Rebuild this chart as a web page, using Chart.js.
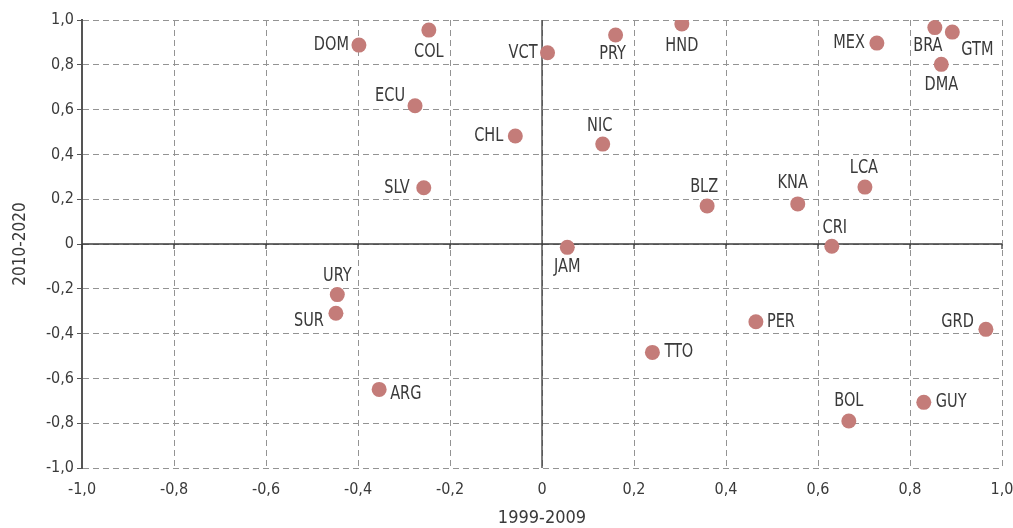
<!DOCTYPE html>
<html>
<head>
<meta charset="utf-8">
<script src="https://cdn.jsdelivr.net/npm/chart.js@4/dist/chart.umd.min.js"></script>
<style>
  html, body { margin: 0; padding: 0; background: #fff; }
  #wrap { width: 1013px; height: 528px; }
</style>
</head>
<body>
<div id="wrap"><canvas id="c" width="1013" height="528"></canvas></div>
<script>
// Country codes and their correlation values for the two periods
const countries = ['DOM','COL','VCT','PRY','HND','MEX','BRA','GTM','DMA','ECU','CHL','NIC','SLV',
                   'LCA','KNA','BLZ','CRI','JAM','URY','SUR','PER','GRD','TTO','ARG','GUY','BOL'];
const period1999_2009 = [-0.398,-0.246, 0.012, 0.160, 0.304, 0.728, 0.854, 0.892, 0.868,-0.276,-0.058, 0.132,-0.257,
                          0.702, 0.556, 0.359, 0.630, 0.055,-0.445,-0.448, 0.465, 0.965, 0.240,-0.354, 0.830, 0.667];
const period2010_2020 = [ 0.888, 0.955, 0.854, 0.933, 0.982, 0.897, 0.966, 0.946, 0.802, 0.617, 0.482, 0.446, 0.251,
                          0.254, 0.179, 0.170,-0.010,-0.015,-0.226,-0.309,-0.347,-0.381,-0.484,-0.649,-0.707,-0.790];
const tickValues = [-1, -0.8, -0.6, -0.4, -0.2, 0, 0.2, 0.4, 0.6, 0.8, 1];
const xTitle = '1999-2009';
const yTitle = '2010-2020';

const FONT = "'DejaVu Sans Condensed', 'Liberation Sans Narrow', sans-serif";
const TEXT = '#3a3a3a';

const fmt = v => (Math.abs(v) < 1e-9 ? '0' : v.toFixed(1).replace('.', ','));
const useTicks = scale => { scale.ticks = tickValues.map(v => ({ value: v })); };

// label anchor: text alignment and offset from the dot centre
const labelPlacement = {
  DOM: ['right', -10, 0],  COL: ['center', 0, 22],  VCT: ['right', -10, 0],  PRY: ['center', -3, 19],
  HND: ['center', 0, 22],  MEX: ['right', -12, 0],  BRA: ['center', -7, 18], GTM: ['left', 9, 18],
  DMA: ['center', 0, 21],  ECU: ['right', -10, -10], CHL: ['right', -12, 0], NIC: ['center', -3, -18],
  SLV: ['right', -14, 0],  LCA: ['center', -1, -19], KNA: ['center', -5, -21], BLZ: ['center', -3, -19],
  CRI: ['center', 3, -18], JAM: ['center', 0, 20],  URY: ['center', 0, -19], SUR: ['right', -12, 8],
  PER: ['left', 11, 0],    GRD: ['right', -12, -7], TTO: ['left', 12, 0],   ARG: ['left', 11, 5],
  GUY: ['left', 12, 0],    BOL: ['center', 0, -20]
};
const LABEL_SQUEEZE = 0.85;   // narrow the label glyphs horizontally

// Solid zero axes with small tick marks on the horizontal one
const zeroAxes = {
  id: 'zeroAxes',
  beforeDatasetsDraw(chart) {
    const { ctx, chartArea: a, scales: { x, y } } = chart;
    const x0 = x.getPixelForValue(0), y0 = y.getPixelForValue(0);
    ctx.save();
    ctx.strokeStyle = '#3c3c3c';
    ctx.lineWidth = 1.3;
    ctx.beginPath();
    ctx.moveTo(x0, a.top); ctx.lineTo(x0, a.bottom);
    ctx.moveTo(a.left, y0); ctx.lineTo(a.right, y0);
    tickValues.forEach(v => {
      const px = x.getPixelForValue(v);
      ctx.moveTo(px, y0); ctx.lineTo(px, y0 + 5);
    });
    ctx.stroke();
    ctx.restore();
  }
};

// Country code next to each dot
const pointLabels = {
  id: 'pointLabels',
  afterDatasetsDraw(chart) {
    const { ctx, scales: { x, y } } = chart;
    ctx.save();
    ctx.font = '19px ' + FONT;
    ctx.fillStyle = TEXT;
    ctx.textBaseline = 'middle';
    countries.forEach((c, i) => {
      const [align, dx, dy] = labelPlacement[c];
      const px = x.getPixelForValue(period1999_2009[i]) + dx;
      const py = y.getPixelForValue(period2010_2020[i]) + dy;
      ctx.save();
      ctx.translate(px, py);
      ctx.scale(LABEL_SQUEEZE, 1);
      ctx.textAlign = align;
      ctx.fillText(c, 0, 0);
      ctx.restore();
    });
    ctx.restore();
  }
};

new Chart(document.getElementById('c'), {
  type: 'scatter',
  data: {
    datasets: [{
      data: countries.map((c, i) => ({ x: period1999_2009[i], y: period2010_2020[i] })),
      backgroundColor: '#c47c79',
      borderWidth: 0,
      pointRadius: 7.5,
      pointHoverRadius: 7.5
    }]
  },
  options: {
    responsive: false,
    animation: false,
    events: [],
    layout: { padding: { top: 20, right: 11, left: 0, bottom: 0 } },
    plugins: { legend: { display: false }, tooltip: { enabled: false } },
    scales: {
      x: {
        type: 'linear', min: -1, max: 1,
        afterBuildTicks: useTicks,
        afterFit(s) { s.height = 60; s.paddingLeft = 0; s.paddingRight = 0; },
        grid: { color: '#939393', lineWidth: 1, drawTicks: false },
        border: { display: false, dash: [6, 4] },
        ticks: { callback: fmt, padding: 12, color: TEXT, font: { family: FONT, size: 16 }, maxRotation: 0 },
        title: { display: true, text: xTitle, color: TEXT, font: { family: FONT, size: 18, lineHeight: 1 }, padding: { top: 0, bottom: 1 } }
      },
      y: {
        type: 'linear', min: -1, max: 1,
        afterBuildTicks: useTicks,
        afterFit(s) { s.width = 82; },
        grid: { color: '#939393', lineWidth: 1, drawTicks: true, tickLength: 5, tickColor: '#555' },
        border: { display: true, color: '#555', width: 2, dash: [6, 4] },
        ticks: { callback: fmt, padding: 3, color: TEXT, font: { family: FONT, size: 16 } },
        title: { display: true, text: yTitle, color: TEXT, font: { family: FONT, size: 17, lineHeight: 1 }, padding: { top: 12, bottom: 0 } }
      }
    }
  },
  plugins: [zeroAxes, pointLabels]
});
</script>
</body>
</html>
